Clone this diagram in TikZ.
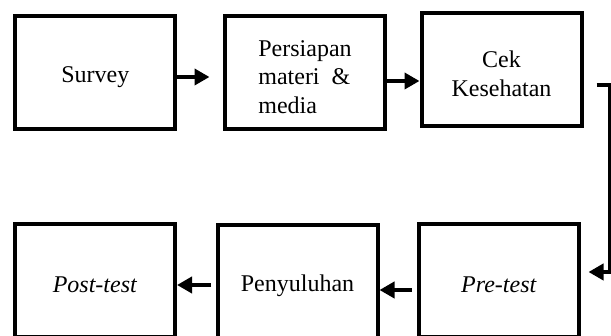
\documentclass[tikz,border=0pt]{standalone}
\usepackage{fontspec}
\setmainfont{Liberation Serif}
\usetikzlibrary{arrows.meta}
\newcommand{\topgap}{\rule{0pt}{24pt}}

\begin{document}
\begin{tikzpicture}[x = 1pt, y = 1pt,
	box/.style = {draw, line width = 4pt, minimum width = 160pt, minimum height = 113pt, inner sep = 0pt, font = \fontsize{24}{28.8}\selectfont, align = center},
	arr/.style = {line width = 4pt, -{Triangle[length = 15pt, width = 16pt]}}]
	\useasboundingbox (0,0) rectangle (611,336);
	\node [box] (survey) at (95.3,263) {\topgap Survey};
	\node [box, align = left] (persiapan) at (305,263) {\topgap Persiapan\\materi~~\&\\media};
	\node [box] (cek) at (501.5,266) {\topgap Cek\\Kesehatan};
	\node [box] (post) at (95,55) {\topgap\textit{Post-test}};
	\node [box] (peny) at (297.5,54) {\topgap Penyuluhan};
	\node [box] (pre) at (499,55) {\topgap\textit{Pre-test}};
	\coordinate (ne) at (610,251);
	\coordinate (se) at (610,64);
	\draw [arr, shorten > = 13.5pt] ([yshift=-4pt]survey.east) -- ([yshift=-4pt]survey.east -| persiapan.west);
	\draw [arr] ([yshift=-8pt]persiapan.east) -- ([yshift=-8pt]persiapan.east -| cek.west);
	\draw [arr, shorten < = 13pt, shorten > = 7.5pt] ([yshift=-15pt]cek.east) -- (ne) -- (se) -- (se -| pre.east);
	\draw [arr, shorten < = 5.5pt] ([yshift=-9pt]pre.west) -- ([yshift=-9pt]pre.west -| peny.east);
	\draw [arr, shorten < = 4.5pt] ([yshift=-3pt]peny.west) -- ([yshift=-3pt]peny.west -| post.east);
\end{tikzpicture}
\end{document}
